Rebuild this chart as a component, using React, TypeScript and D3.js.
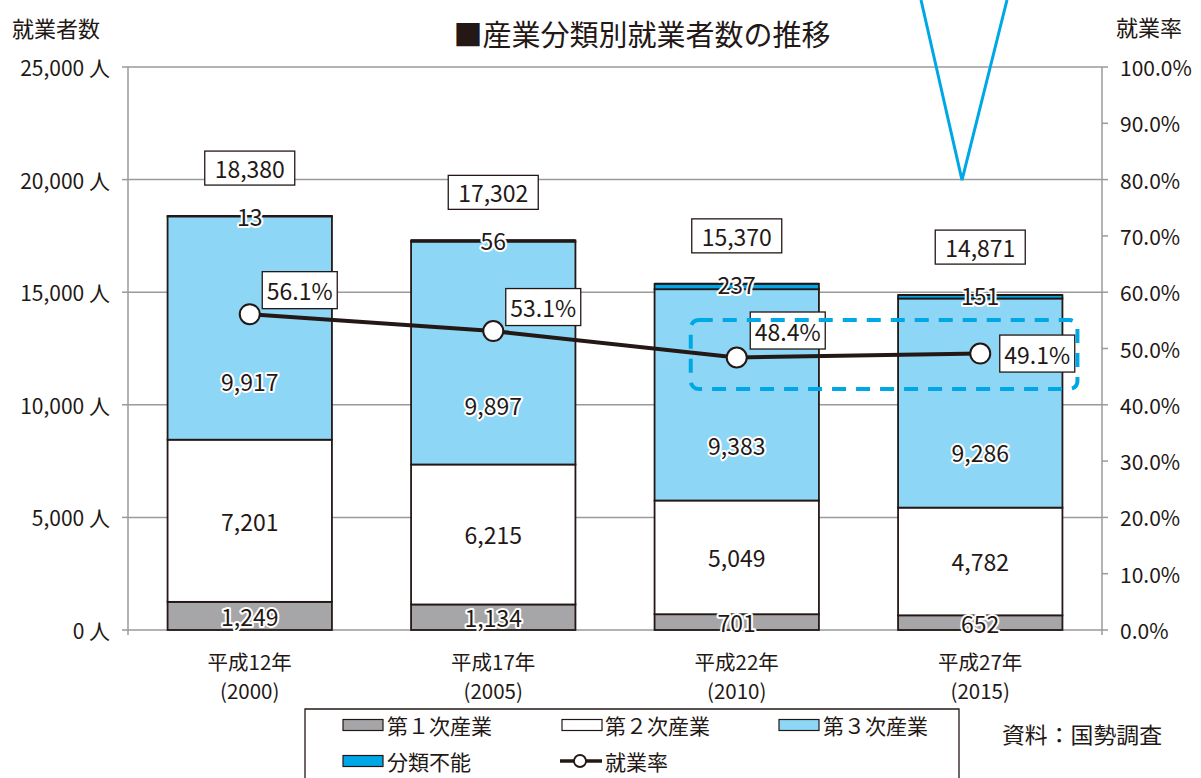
import React from "react";
import * as d3 from "d3";

const categories = ["平成12年", "平成17年", "平成22年", "平成27年"];
const yearLabels = ["(2000)", "(2005)", "(2010)", "(2015)"];
const primary = [1249, 1134, 701, 652];
const secondary = [7201, 6215, 5049, 4782];
const tertiary = [9917, 9897, 9383, 9286];
const unclassified = [13, 56, 237, 151];
const totals = [18380, 17302, 15370, 14871];
const rates = [56.1, 53.1, 48.4, 49.1];
const leftTicks = [0, 5000, 10000, 15000, 20000, 25000];
const rightTicks = [0, 10, 20, 30, 40, 50, 60, 70, 80, 90, 100];

const FONT = "'Noto Sans CJK JP', 'Noto Sans', sans-serif";
const TXT = "#231815";
const GRID = "#9a9a9a";
const C1 = "#a6a6a9";
const C2 = "#ffffff";
const C3 = "#8dd6f5";
const C4 = "#00a7e6";

export default function App() {
  const W = 1201, H = 778;
  const x = d3.scaleBand<string>().domain(categories).range([128, 1102]).paddingInner(0.325).paddingOuter(0.1625);
  const yL = d3.scaleLinear().domain([0, 25000]).range([630, 67]);
  const yR = d3.scaleLinear().domain([0, 100]).range([630, 67]);
  const bw = x.bandwidth();
  const fmt = d3.format(",");

  const series = [
    { key: "第１次産業", values: primary, color: C1 },
    { key: "第２次産業", values: secondary, color: C2 },
    { key: "第３次産業", values: tertiary, color: C3 },
    { key: "分類不能", values: unclassified, color: C4 },
  ];
  const stackData = categories.map((c, i) => ({
    cat: c, s0: primary[i], s1: secondary[i], s2: tertiary[i], s3: unclassified[i],
  }));
  const stacked = d3.stack<any>().keys(["s0", "s1", "s2", "s3"])(stackData);

  const cx = (i: number) => (x(categories[i]) as number) + bw / 2;
  const line = d3.line<number>().x((_, i) => cx(i)).y((d) => yR(d));

  const halo = (t: string, px: number, py: number, key: string) => (
    <text key={key} x={px} y={py} textAnchor="middle" dominantBaseline="central" fontSize={23}
      fill={TXT} stroke="#fff" strokeWidth={4} paintOrder="stroke" strokeLinejoin="round">{t}</text>
  );

  const labelY = (k: number, lo: number, hi: number) => {
    if (k === 2) return yL(lo + (hi - lo) * 0.265);
    if (k === 3) return yL(hi);
    return yL((lo + hi) / 2);
  };

  const legendItems1 = [
    { label: "第１次産業", color: C1, sx: 343, tx: 387 },
    { label: "第２次産業", color: C2, sx: 562, tx: 605 },
    { label: "第３次産業", color: C3, sx: 779, tx: 823 },
  ];

  const rateOffsets = [
    [50, -24], [50, -24], [51, -27], [57, 0],
  ];

  const row1 = 725, row2 = 761;

  return (
    <svg width={W} height={H} style={{ position: "absolute", left: 0, top: 0, background: "#fff" }} fontFamily={FONT}>
      <rect x={0} y={0} width={W} height={H} fill="#fff" />
      <text x={642} y={33} textAnchor="middle" dominantBaseline="central" fontSize={29} fill={TXT}>■産業分類別就業者数の推移</text>
      <text x={12} y={27} dominantBaseline="central" fontSize={22} fill={TXT}>就業者数</text>
      <text x={1116} y={26} dominantBaseline="central" fontSize={22} fill={TXT}>就業率</text>

      {leftTicks.map((t) => (
        <line key={"g" + t} x1={128} x2={1102} y1={yL(t)} y2={yL(t)} stroke={GRID} strokeWidth={1.5} />
      ))}
      <line x1={128} x2={128} y1={yL(25000)} y2={yL(0) + 5} stroke={GRID} strokeWidth={1.5} />
      <line x1={1102} x2={1102} y1={yR(100)} y2={yR(0) + 5} stroke={GRID} strokeWidth={1.5} />
      {leftTicks.map((t) => (
        <g key={"lt" + t}>
          <line x1={122} x2={128} y1={yL(t)} y2={yL(t)} stroke={GRID} strokeWidth={1.5} />
          <text x={110} y={yL(t)} textAnchor="end" dominantBaseline="central" fontSize={21} fill={TXT}>{fmt(t)} 人</text>
        </g>
      ))}
      {rightTicks.map((t) => (
        <g key={"rt" + t}>
          <line x1={1102} x2={1108} y1={yR(t)} y2={yR(t)} stroke={GRID} strokeWidth={1.5} />
          <text x={1120} y={yR(t)} dominantBaseline="central" fontSize={21} fill={TXT}>{t.toFixed(1)}%</text>
        </g>
      ))}

      {stacked.map((layer, k) => (
        <g key={"layer" + k}>
          {layer.map((d, i) => (
            <rect key={i} x={x(categories[i])} y={yL(d[1])} width={bw} height={Math.max(0.01, yL(d[0]) - yL(d[1]))}
              fill={series[k].color} stroke="#231815" strokeWidth={1.8} />
          ))}
        </g>
      ))}
      {stacked[3].map((d, i) => (
        <line key={"top" + i} x1={x(categories[i])} x2={(x(categories[i]) as number) + bw} y1={yL(d[1])} y2={yL(d[1])} stroke="#231815" strokeWidth={2} />
      ))}

      {stacked.map((layer, k) => layer.map((d, i) => halo(fmt(series[k].values[i]), cx(i), labelY(k, d[0], d[1]), "lab" + k + "_" + i)))}

      {totals.map((t, i) => {
        const by = yL(t) - 48;
        return (
          <g key={"tot" + i}>
            <rect x={cx(i) - 45} y={by - 17} width={90} height={34} fill="#fff" stroke="#231815" strokeWidth={1.3} />
            <text x={cx(i)} y={by} textAnchor="middle" dominantBaseline="central" fontSize={23} fill={TXT}>{fmt(t)}</text>
          </g>
        );
      })}

      <path d={line(rates) || ""} fill="none" stroke="#231815" strokeWidth={4} />
      {rates.map((r, i) => (
        <circle key={"c" + i} cx={cx(i)} cy={yR(r)} r={10} fill="#fff" stroke="#231815" strokeWidth={2} />
      ))}
      {rates.map((r, i) => {
        const lx = cx(i) + rateOffsets[i][0];
        const ly = yR(r) + rateOffsets[i][1];
        return (
          <g key={"rl" + i}>
            <rect x={lx - 37.5} y={ly - 18.5} width={75} height={37} fill="#fff" stroke="#231815" strokeWidth={1.3} />
            <text x={lx} y={ly} textAnchor="middle" dominantBaseline="central" fontSize={23} fill={TXT}>{r.toFixed(1)}%</text>
          </g>
        );
      })}

      <rect x={cx(2) - 46} y={yR(55.05)} width={cx(3) + bw / 2 + 15 - (cx(2) - 46)} height={yR(42.8) - yR(55.05)}
        rx={8} ry={8} fill="none" stroke={C4} strokeWidth={4} strokeDasharray="14 10" />
      <path d={`M921,0 L962,${yR(79.9)} L1007,0`} fill="none" stroke={C4} strokeWidth={3} />

      {categories.map((c, i) => (
        <g key={"xl" + i}>
          <text x={cx(i)} y={661} textAnchor="middle" dominantBaseline="central" fontSize={20.5} fill={TXT}>{c}</text>
          <text x={cx(i)} y={690} textAnchor="middle" dominantBaseline="central" fontSize={20.5} fill={TXT}>{yearLabels[i]}</text>
        </g>
      ))}

      <path d="M305,790 L305,709 L959,709 L959,790" fill="none" stroke="#231815" strokeWidth={1.3} />
      {legendItems1.map((it) => (
        <g key={it.label}>
          <rect x={it.sx} y={row1 - 5.5} width={40} height={11} fill={it.color} stroke="#231815" strokeWidth={1.2} />
          <text x={it.tx} y={row1} dominantBaseline="central" fontSize={21} fill={TXT}>{it.label}</text>
        </g>
      ))}
      <rect x={343} y={row2 - 5.5} width={40} height={11} fill={C4} stroke="#231815" strokeWidth={1.2} />
      <text x={387} y={row2} dominantBaseline="central" fontSize={21} fill={TXT}>分類不能</text>
      <line x1={560} x2={602} y1={row2} y2={row2} stroke="#231815" strokeWidth={3.5} />
      <circle cx={580} cy={row2} r={6} fill="#fff" stroke="#231815" strokeWidth={1.8} />
      <text x={605} y={row2} dominantBaseline="central" fontSize={21} fill={TXT}>就業率</text>

      <text x={1002} y={733} dominantBaseline="central" fontSize={22} fill={TXT} textLength={160} lengthAdjust="spacingAndGlyphs">資料：国勢調査</text>
    </svg>
  );
}
